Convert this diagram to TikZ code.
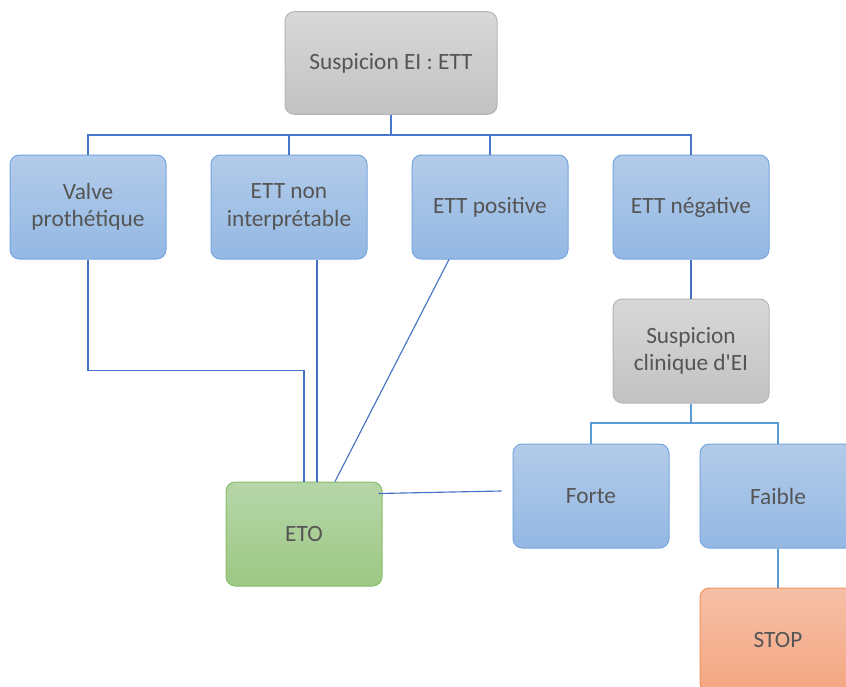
\documentclass[tikz,border=0pt]{standalone}
\usepackage{fontspec}
\setmainfont{Carlito}
\usetikzlibrary{calc}

\definecolor{txtgray}{HTML}{555555}
\definecolor{bluetop}{HTML}{B2CBE9}
\definecolor{bluebot}{HTML}{94B8E3}
\definecolor{blueline}{HTML}{76A5DE}
\definecolor{graytop}{HTML}{D8D8D8}
\definecolor{graybot}{HTML}{C2C2C2}
\definecolor{grayline}{HTML}{B4B4B4}
\definecolor{greentop}{HTML}{B7D6A9}
\definecolor{greenbot}{HTML}{9DC884}
\definecolor{greenline}{HTML}{88BC6A}
\definecolor{orangetop}{HTML}{F6C0A6}
\definecolor{orangebot}{HTML}{F4A682}
\definecolor{orangeline}{HTML}{F0935C}
\definecolor{barblue}{HTML}{4877CC}
\definecolor{barlight}{HTML}{5B9BD5}
\definecolor{linkblue}{HTML}{4472C4}

\begin{document}
\begin{tikzpicture}[x=0.75pt, y=-0.75pt, node distance=150.75pt,
    box/.style={rectangle, rounded corners=7pt, minimum width=117pt, minimum height=78pt,
        align=center, text=txtgray, line width=0.75pt,
        font=\fontsize{17.5}{20.5}\selectfont},
    bluebox/.style={box, draw=blueline, top color=bluetop, bottom color=bluebot},
    graybox/.style={box, draw=grayline, top color=graytop, bottom color=graybot},
    greenbox/.style={box, draw=greenline, top color=greentop, bottom color=greenbot},
    orangebox/.style={box, draw=orangeline, top color=orangetop, bottom color=orangebot},
    bar/.style={draw=barblue, line width=2pt},
    barlt/.style={draw=barlight, line width=1.8pt},
    link/.style={draw=linkblue, line width=0.85pt}]
    \clip (0,0) rectangle (846,686);

    \node [graybox, minimum width=159pt, minimum height=77pt] (suspett) at (391,63) {Suspicion EI : ETT};
    \node [bluebox] (valve) at (88,207) {Valve\\prothétique};
    \node [bluebox, right of=valve] (ettni) {ETT non\\interprétable};
    \node [bluebox, right of=ettni] (ettpos) {ETT positive};
    \node [bluebox, right of=ettpos] (ettneg) {ETT négative};
    \node [graybox] (suspclin) at (691,351) {Suspicion\\clinique d\textquotesingle EI};
    \node [bluebox] (forte) at (591,496) {Forte};
    \node [bluebox] (faible) at (778,496) {Faible};
    \node [greenbox] (eto) at (304,534) {ETO};
    \node [orangebox] (stop) at (778,640) {STOP};

    % branches of the ETT
    \coordinate (bus) at (391,135);
    \draw[bar] (suspett.south) -- (bus);
    \foreach \n in {valve,ettni,ettpos,ettneg}
        \draw[bar] (bus) -| (\n.north);

    % towards the ETO
    \draw[link] (valve.south) -- ++(0,111) -| (eto.north);
    \draw[link] ($(ettni.south)+(28,0)$) -- ($(eto.north)+(13,0)$);
    \draw[link] ($(ettpos.south)+(-41,0)$) -- ($(eto.north)+(31,0)$);
    \coordinate (fortein) at ($(forte.west)+(-11,-5)$);
    \draw[link] ($(eto.north east)+(-4,12)$) -- (fortein);

    % negative ETT
    \draw[link] (ettneg.south) -- (suspclin.north);
    \coordinate (bus2) at (691,423);
    \draw[barlt] (suspclin.south) -- (bus2);
    \foreach \n in {forte,faible}
        \draw[barlt] (bus2) -| (\n.north);
    \draw[barlt] (faible.south) -- (stop.north);
\end{tikzpicture}
\end{document}
